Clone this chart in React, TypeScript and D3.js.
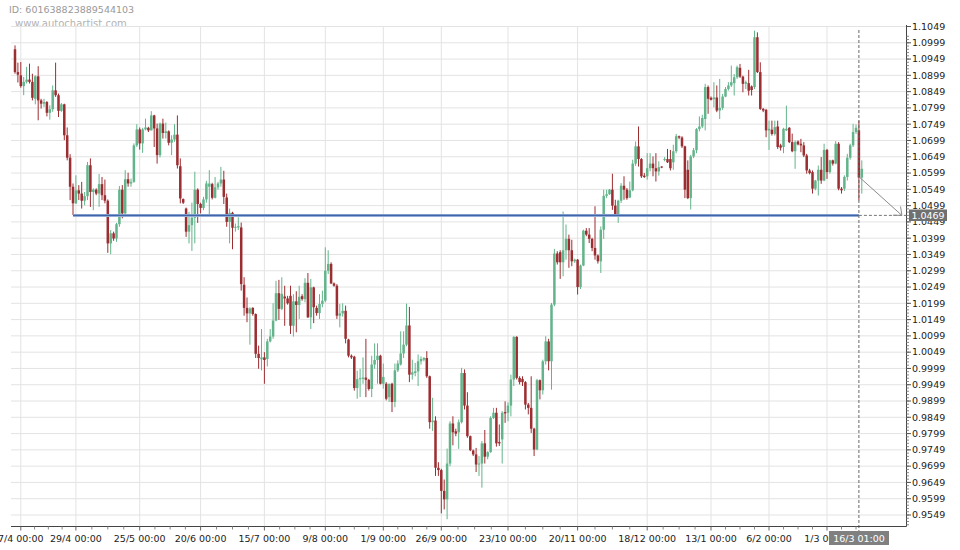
import React from "react";
import * as d3 from "d3";

// ---- data (daily candles) ----
const opens = [
1.0979,1.0909,1.0899,1.0866,1.0879,1.0886,1.0879,1.0827,1.0896,1.0822,
1.0812,1.0817,1.0784,1.0795,1.0853,1.0838,1.0790,1.0810,1.0715,1.0646,
1.0557,1.0506,1.0546,1.0536,1.0514,1.0528,1.0623,1.0541,1.0548,1.0536,
1.0565,1.0531,1.0514,1.0383,1.0414,1.0398,1.0442,1.0548,1.0475,1.0580,
1.0567,1.0572,1.0684,1.0733,1.0690,1.0733,1.0738,1.0730,1.0776,1.0736,
1.0654,1.0751,1.0722,1.0727,1.0692,1.0702,1.0717,1.0620,1.0519,1.0490,
1.0419,1.0439,1.0462,1.0548,1.0504,1.0492,1.0518,1.0557,1.0565,1.0523,
1.0555,1.0567,1.0579,1.0524,1.0449,1.0477,1.0431,1.0432,1.0432,1.0256,
1.0185,1.0168,1.0185,1.0166,1.0044,1.0027,1.0033,1.0028,1.0082,1.0097,
1.0146,1.0230,1.0182,1.0220,1.0214,1.0222,1.0130,1.0205,1.0194,1.0221,
1.0212,1.0262,1.0156,1.0248,1.0185,1.0169,1.0197,1.0207,1.0299,1.0320,
1.0260,1.0253,1.0161,1.0168,1.0176,1.0088,1.0038,1.0035,0.9939,0.9966,
0.9967,0.9971,0.9964,0.9936,1.0011,1.0025,1.0038,0.9952,0.9952,0.9911,
0.9952,0.9896,0.9993,1.0011,1.0045,1.0072,1.0131,0.9980,0.9985,0.9990,
1.0021,1.0026,1.0031,0.9975,0.9834,0.9839,0.9694,0.9687,0.9623,0.9597,
0.9707,0.9830,0.9806,0.9803,0.9834,0.9985,0.9885,0.9791,0.9747,0.9735,
0.9704,0.9707,0.9769,0.9728,0.9742,0.9847,0.9863,0.9773,0.9781,0.9865,
0.9863,0.9885,0.9965,1.0096,0.9970,0.9967,0.9957,0.9888,0.9878,0.9814,
0.9750,0.9963,0.9932,1.0021,1.0082,1.0021,1.0195,1.0352,1.0356,1.0325,
1.0362,1.0397,1.0362,1.0328,1.0333,1.0249,1.0315,1.0422,1.0410,1.0397,
1.0369,1.0346,1.0328,1.0425,1.0529,1.0534,1.0548,1.0499,1.0471,1.0514,
1.0560,1.0548,1.0524,1.0546,1.0628,1.0681,1.0642,1.0591,1.0589,1.0614,
1.0628,1.0614,1.0604,1.0619,1.0640,1.0642,1.0642,1.0632,1.0666,1.0712,
1.0708,1.0681,1.0609,1.0522,1.0650,1.0669,1.0734,1.0742,1.0765,1.0863,
1.0830,1.0826,1.0831,1.0791,1.0799,1.0834,1.0857,1.0868,1.0875,1.0893,
1.0922,1.0895,1.0873,1.0875,1.0865,1.0863,1.1016,1.0909,1.0796,1.0793,
1.0730,1.0732,1.0719,1.0742,1.0684,1.0679,1.0730,1.0738,1.0694,1.0666,
1.0696,1.0689,1.0684,1.0653,1.0607,1.0602,1.0551,1.0576,1.0609,1.0576,
1.0670,1.0602,1.0638,1.0628,1.0689,1.0551,1.0551,1.0587,1.0646,1.0684,
1.0725,1.0730,1.0585
];
const highs = [
1.0991,1.0938,1.0940,1.0894,1.0925,1.0935,1.0904,1.0899,1.0927,1.0827,
1.0827,1.0820,1.0807,1.0868,1.0938,1.0843,1.0814,1.0812,1.0739,1.0657,
1.0567,1.0592,1.0562,1.0572,1.0541,1.0633,1.0644,1.0552,1.0552,1.0596,
1.0587,1.0579,1.0518,1.0424,1.0419,1.0446,1.0559,1.0562,1.0608,1.0600,
1.0582,1.0690,1.0749,1.0739,1.0738,1.0766,1.0741,1.0789,1.0778,1.0751,
1.0754,1.0766,1.0754,1.0730,1.0715,1.0749,1.0776,1.0644,1.0521,1.0493,
1.0480,1.0508,1.0603,1.0552,1.0508,1.0526,1.0575,1.0608,1.0569,1.0587,
1.0572,1.0618,1.0606,1.0536,1.0490,1.0480,1.0444,1.0463,1.0447,1.0279,
1.0217,1.0187,1.0187,1.0168,1.0069,1.0120,1.0049,1.0090,1.0120,1.0199,
1.0268,1.0271,1.0279,1.0253,1.0222,1.0253,1.0227,1.0236,1.0253,1.0227,
1.0276,1.0292,1.0274,1.0250,1.0192,1.0227,1.0238,1.0371,1.0362,1.0325,
1.0263,1.0258,1.0197,1.0199,1.0192,1.0090,1.0042,1.0038,0.9992,0.9998,
1.0033,1.0090,0.9967,1.0038,1.0076,1.0076,1.0041,1.0014,0.9957,0.9952,
0.9955,1.0014,1.0024,1.0113,1.0113,1.0198,1.0188,1.0026,1.0016,1.0042,
1.0036,1.0034,1.0052,0.9977,0.9909,0.9852,0.9711,0.9691,0.9658,0.9753,
0.9837,0.9852,0.9814,0.9842,1.0001,0.9996,0.9926,0.9793,0.9750,0.9755,
0.9730,0.9776,0.9810,0.9745,0.9852,0.9878,0.9878,0.9827,0.9868,0.9898,
0.9895,0.9980,1.0098,1.0098,0.9975,0.9975,0.9960,0.9893,0.9975,0.9817,
0.9967,0.9965,1.0026,1.0098,1.0090,1.0200,1.0366,1.0359,1.0362,1.0481,
1.0441,1.0410,1.0394,1.0336,1.0335,1.0318,1.0425,1.0430,1.0430,1.0400,
1.0497,1.0349,1.0435,1.0548,1.0548,1.0550,1.0597,1.0517,1.0517,1.0568,
1.0589,1.0553,1.0573,1.0640,1.0696,1.0742,1.0645,1.0599,1.0660,1.0660,
1.0650,1.0660,1.0635,1.0620,1.0648,1.0673,1.0670,1.0686,1.0719,1.0714,
1.0712,1.0683,1.0638,1.0655,1.0676,1.0737,1.0773,1.0778,1.0873,1.0868,
1.0834,1.0878,1.0868,1.0888,1.0842,1.0863,1.0878,1.0929,1.0903,1.0929,
1.0934,1.0898,1.0883,1.0916,1.0868,1.1036,1.1031,1.0939,1.0799,1.0796,
1.0760,1.0760,1.0760,1.0760,1.0689,1.0738,1.0806,1.0740,1.0720,1.0699,
1.0699,1.0704,1.0694,1.0658,1.0612,1.0607,1.0578,1.0622,1.0648,1.0689,
1.0673,1.0640,1.0640,1.0697,1.0694,1.0556,1.0592,1.0658,1.0689,1.0750,
1.0748,1.0760,1.0638
];
const lows = [
1.0904,1.0877,1.0861,1.0838,1.0874,1.0874,1.0822,1.0810,1.0761,1.0797,
1.0802,1.0773,1.0763,1.0787,1.0833,1.0771,1.0787,1.0700,1.0638,1.0516,
1.0470,1.0504,1.0516,1.0490,1.0500,1.0516,1.0495,1.0485,1.0531,1.0495,
1.0516,1.0506,1.0354,1.0350,1.0391,1.0388,1.0434,1.0460,1.0473,1.0557,
1.0557,1.0569,1.0679,1.0671,1.0661,1.0730,1.0725,1.0730,1.0679,1.0628,
1.0647,1.0705,1.0705,1.0684,1.0654,1.0695,1.0613,1.0506,1.0504,1.0403,
1.0383,1.0360,1.0383,1.0446,1.0475,1.0485,1.0508,1.0470,1.0518,1.0521,
1.0548,1.0557,1.0504,1.0434,1.0383,1.0365,1.0419,1.0424,1.0238,1.0161,
1.0141,1.0072,1.0161,1.0031,0.9998,0.9993,0.9952,1.0005,1.0079,1.0090,
1.0144,1.0148,1.0178,1.0130,1.0195,1.0105,1.0097,1.0110,1.0151,1.0207,
1.0202,1.0154,1.0120,1.0138,1.0161,1.0151,1.0187,1.0202,1.0289,1.0258,
1.0250,1.0151,1.0125,1.0158,1.0076,1.0033,1.0028,0.9931,0.9906,0.9911,
0.9952,0.9911,0.9931,0.9911,0.9998,0.9952,0.9950,0.9937,0.9901,0.9896,
0.9865,0.9880,0.9988,1.0008,1.0031,1.0067,0.9957,0.9965,0.9975,0.9945,
1.0011,1.0021,0.9970,0.9814,0.9807,0.9669,0.9669,0.9554,0.9566,0.9536,
0.9699,0.9763,0.9791,0.9752,0.9830,0.9873,0.9786,0.9745,0.9730,0.9681,
0.9669,0.9633,0.9707,0.9720,0.9740,0.9844,0.9759,0.9761,0.9707,0.9832,
0.9837,0.9852,0.9945,0.9965,0.9950,0.9945,0.9873,0.9858,0.9801,0.9730,
0.9748,0.9904,0.9919,1.0011,0.9993,0.9934,1.0190,1.0318,1.0274,1.0282,
1.0333,1.0308,1.0313,1.0323,1.0226,1.0243,1.0313,1.0405,1.0384,1.0359,
1.0333,1.0321,1.0292,1.0397,1.0522,1.0532,1.0486,1.0464,1.0446,1.0507,
1.0517,1.0517,1.0522,1.0543,1.0621,1.0619,1.0584,1.0584,1.0579,1.0604,
1.0589,1.0573,1.0591,1.0614,1.0635,1.0630,1.0607,1.0609,1.0660,1.0703,
1.0676,1.0522,1.0519,1.0487,1.0645,1.0660,1.0727,1.0737,1.0730,1.0781,
1.0822,1.0801,1.0786,1.0765,1.0793,1.0832,1.0852,1.0863,1.0837,1.0888,
1.0891,1.0847,1.0857,1.0837,1.0837,1.0857,1.0906,1.0793,1.0786,1.0709,
1.0670,1.0714,1.0714,1.0673,1.0668,1.0660,1.0728,1.0691,1.0663,1.0612,
1.0684,1.0663,1.0648,1.0597,1.0595,1.0536,1.0546,1.0530,1.0566,1.0574,
1.0581,1.0597,1.0622,1.0626,1.0546,1.0536,1.0544,1.0576,1.0640,1.0679,
1.0719,1.0515,1.0536
];
const closes = [
1.0909,1.0901,1.0866,1.0879,1.0886,1.0879,1.0830,1.0896,1.0822,1.0812,
1.0817,1.0784,1.0795,1.0853,1.0838,1.0790,1.0810,1.0715,1.0646,1.0557,
1.0506,1.0546,1.0536,1.0514,1.0528,1.0623,1.0541,1.0548,1.0536,1.0565,
1.0531,1.0514,1.0383,1.0414,1.0398,1.0442,1.0548,1.0475,1.0580,1.0567,
1.0572,1.0684,1.0733,1.0690,1.0733,1.0739,1.0730,1.0776,1.0736,1.0654,
1.0751,1.0722,1.0727,1.0692,1.0702,1.0717,1.0623,1.0521,1.0508,1.0419,
1.0439,1.0462,1.0548,1.0504,1.0492,1.0518,1.0567,1.0567,1.0523,1.0555,
1.0567,1.0579,1.0526,1.0449,1.0477,1.0431,1.0434,1.0436,1.0258,1.0185,
1.0168,1.0183,1.0166,1.0044,1.0031,1.0033,1.0025,1.0082,1.0097,1.0146,
1.0230,1.0182,1.0228,1.0214,1.0199,1.0130,1.0205,1.0194,1.0219,1.0212,
1.0262,1.0156,1.0248,1.0187,1.0169,1.0197,1.0207,1.0299,1.0320,1.0260,
1.0253,1.0161,1.0168,1.0176,1.0090,1.0038,1.0033,0.9939,0.9966,0.9969,
0.9971,0.9964,0.9936,1.0011,1.0025,1.0038,0.9952,0.9973,0.9906,0.9952,
0.9896,0.9993,1.0014,1.0045,1.0072,1.0131,0.9980,0.9987,0.9990,1.0021,
1.0028,1.0031,0.9975,0.9834,0.9839,0.9694,0.9687,0.9623,0.9597,0.9707,
0.9830,0.9803,0.9799,0.9834,0.9985,0.9885,0.9791,0.9748,0.9735,0.9704,
0.9707,0.9769,0.9728,0.9742,0.9847,0.9863,0.9769,0.9769,0.9863,0.9861,
0.9885,0.9965,1.0096,0.9970,0.9957,0.9957,0.9888,0.9878,0.9814,0.9750,
0.9963,0.9932,1.0021,1.0082,1.0021,1.0195,1.0352,1.0325,1.0325,1.0362,
1.0397,1.0362,1.0328,1.0333,1.0249,1.0315,1.0422,1.0410,1.0397,1.0369,
1.0346,1.0328,1.0425,1.0529,1.0534,1.0548,1.0499,1.0471,1.0514,1.0560,
1.0548,1.0522,1.0546,1.0628,1.0681,1.0642,1.0589,1.0587,1.0614,1.0628,
1.0614,1.0604,1.0617,1.0617,1.0642,1.0632,1.0614,1.0666,1.0712,1.0708,
1.0681,1.0548,1.0522,1.0650,1.0669,1.0734,1.0742,1.0768,1.0863,1.0827,
1.0824,1.0831,1.0791,1.0799,1.0834,1.0857,1.0868,1.0878,1.0893,1.0924,
1.0895,1.0873,1.0878,1.0852,1.0854,1.1016,1.0909,1.0796,1.0791,1.0730,
1.0735,1.0719,1.0740,1.0679,1.0677,1.0735,1.0735,1.0694,1.0666,1.0694,
1.0687,1.0684,1.0653,1.0607,1.0599,1.0551,1.0576,1.0609,1.0576,1.0670,
1.0602,1.0638,1.0628,1.0689,1.0551,1.0546,1.0587,1.0646,1.0684,1.0725,
1.0738,1.0585,1.0612
];

const xTickBars = [3, 22, 44, 65, 87, 108, 128, 148, 171, 195, 219, 241, 261, 281];
const xTickLabels = ["7/4 00:00", "29/4 00:00", "25/5 00:00", "20/6 00:00", "15/7 00:00", "9/8 00:00", "1/9 00:00", "26/9 00:00", "23/10 00:00", "20/11 00:00", "18/12 00:00", "13/1 00:00", "6/2 00:00", "1/3 00:00"];
const yTickValues = [1.1049, 1.0999, 1.0949, 1.0899, 1.0849, 1.0799, 1.0749, 1.0699, 1.0649, 1.0599, 1.0549, 1.0499, 1.0449, 1.0399, 1.0349, 1.0299, 1.0249, 1.0199, 1.0149, 1.0099, 1.0049, 0.9999, 0.9949, 0.9899, 0.9849, 0.9799, 0.9749, 0.9699, 0.9649, 0.9599, 0.9549];

const supportLevel = 1.0469;
const supportStartBar = 21;
const patternEndBar = 292;
const patternEndLabel = "16/3 01:00";
const chartId = "ID: 601638823889544103";
const siteName = "www.autochartist.com";

// ---- layout ----
const W = 960, H = 550;
const PLOT_LEFT = 11, PLOT_RIGHT = 906.5, PLOT_TOP = 26, PLOT_BOTTOM = 526.5;
const FONT = "DejaVu Sans, Verdana, sans-serif";
const RED = "#9c2d31";
const GREEN = "#63b48b";

export default function App() {
  const N = opens.length;
  const x = d3.scaleLinear().domain([1, N]).range([15, 15 + (N - 1) * 2.9]);
  const y = d3.scaleLinear().domain([0.9549, 1.1049]).range([515, 26.5]);
  const bodyW = 2.5;

  const candles = opens.map((o, i) => {
    const c = closes[i];
    const up = c >= o;
    const cx = x(i + 1);
    const top = y(Math.max(o, c));
    const bot = y(Math.min(o, c));
    return { cx, up, top, h: Math.max(1, bot - top), hi: y(highs[i]), lo: y(lows[i]) };
  });

  // minor ticks on the time axis: quarters between major ticks
  const majorX = xTickBars.map((b) => x(b));
  const minorX: number[] = [];
  for (let k = 0; k < majorX.length - 1; k++) {
    const a = majorX[k], b = majorX[k + 1];
    for (let q = 1; q < 4; q++) minorX.push(a + ((b - a) * q) / 4);
  }
  const lastStep = (majorX[majorX.length - 1] - majorX[majorX.length - 2]) / 4;
  for (let q = 1; q <= 2; q++) minorX.push(majorX[majorX.length - 1] + lastStep * q);

  // minor ticks on the price axis every 0.001
  const yMinor = d3.range(0, 151).map((k) => 0.9519 + k * 0.001).filter((v) => y(v) >= PLOT_TOP && y(v) <= PLOT_BOTTOM);

  const supY = y(supportLevel);
  const endX = x(patternEndBar);
  const endY = y(closes[patternEndBar - 1]);
  const tipX = endX + 43;
  const tipY = supY;
  const ang = Math.atan2(tipY - endY, tipX - endX);
  const headLen = 9;
  const headA = (40 * Math.PI) / 180;
  const h1 = [tipX - headLen * Math.cos(ang - headA), tipY - headLen * Math.sin(ang - headA)];
  const h2 = [tipX - headLen * Math.cos(ang + headA), tipY - headLen * Math.sin(ang + headA)];

  return (
    <svg width={W} height={H} style={{ position: "absolute", left: 0, top: 0, background: "#fff" }} fontFamily={FONT}>
      <rect x={0} y={0} width={W} height={H} fill="#fff" />
      {/* header */}
      <text x={9} y={13} fontSize={9.5} fill="#999">{chartId}</text>
      <text x={15} y={27} fontSize={10} fill="#b3b3b3">{siteName}</text>

      {/* grid */}
      {yTickValues.map((v) => (
        <line key={"gy" + v} x1={PLOT_LEFT} x2={PLOT_RIGHT} y1={y(v)} y2={y(v)} stroke="#e3e3e3" strokeWidth={1} />
      ))}
      {majorX.map((gx, i) => (
        <line key={"gx" + i} x1={gx} x2={gx} y1={PLOT_TOP} y2={PLOT_BOTTOM} stroke="#e3e3e3" strokeWidth={1} />
      ))}

      {/* candles */}
      {candles.map((c, i) => (
        <g key={"c" + i}>
          <line x1={c.cx} x2={c.cx} y1={c.hi} y2={c.lo} stroke={c.up ? GREEN : RED} strokeWidth={1} />
          <rect x={c.cx - bodyW / 2} y={c.top} width={bodyW} height={c.h} fill={c.up ? GREEN : RED} />
        </g>
      ))}

      {/* support line */}
      <line x1={x(supportStartBar)} x2={endX} y1={supY} y2={supY} stroke="#93acd8" strokeWidth={3} />
      <line x1={x(supportStartBar)} x2={endX} y1={supY} y2={supY} stroke="#4166a8" strokeWidth={1.4} />

      {/* pattern end markers */}
      <line x1={endX} x2={endX} y1={30} y2={531} stroke="#666" strokeWidth={1} strokeDasharray="3,2" />
      <line x1={endX} x2={PLOT_RIGHT} y1={supY} y2={supY} stroke="#777" strokeWidth={1} strokeDasharray="3,2" />
      <line x1={endX + 1} y1={endY} x2={tipX} y2={tipY} stroke="#8a8a8a" strokeWidth={1} />
      <polyline points={`${h1[0]},${h1[1]} ${tipX},${tipY} ${h2[0]},${h2[1]}`} fill="none" stroke="#8a8a8a" strokeWidth={1} />

      {/* axes */}
      <line x1={PLOT_LEFT} x2={PLOT_RIGHT} y1={PLOT_BOTTOM} y2={PLOT_BOTTOM} stroke="#444" strokeWidth={1} />
      <line x1={PLOT_RIGHT} x2={PLOT_RIGHT} y1={PLOT_TOP - 1} y2={PLOT_BOTTOM} stroke="#444" strokeWidth={1} />
      {majorX.map((gx, i) => (
        <line key={"tx" + i} x1={gx} x2={gx} y1={PLOT_BOTTOM} y2={PLOT_BOTTOM + 4} stroke="#666" strokeWidth={1} />
      ))}
      {minorX.map((gx, i) => (
        <line key={"mx" + i} x1={gx} x2={gx} y1={PLOT_BOTTOM} y2={PLOT_BOTTOM + 3} stroke="#888" strokeWidth={1} />
      ))}
      {yMinor.map((v, i) => (
        <line key={"my" + i} x1={PLOT_RIGHT} x2={PLOT_RIGHT + 2.5} y1={y(v)} y2={y(v)} stroke="#888" strokeWidth={1} />
      ))}
      {yTickValues.map((v) => (
        <g key={"ty" + v}>
          <line x1={PLOT_RIGHT} x2={PLOT_RIGHT + 4.5} y1={y(v)} y2={y(v)} stroke="#555" strokeWidth={1} />
          <text x={912} y={y(v)} dy="0.35em" fontSize={9.5} fill="#222">{v.toFixed(4)}</text>
        </g>
      ))}
      {xTickLabels.map((t, i) => (
        <text key={"lx" + i} x={majorX[i]} y={542} fontSize={9.5} fill="#222" textAnchor="middle">{t}</text>
      ))}

      {/* value labels */}
      <rect x={909} y={209.5} width={38} height={11.5} fill="#707070" />
      <text x={928} y={supY} dy="0.35em" fontSize={9.5} fill="#fff" textAnchor="middle">{supportLevel.toFixed(4)}</text>
      <rect x={829} y={531} width={60} height={14} fill="#808080" />
      <text x={859} y={542} fontSize={9.5} fill="#fff" textAnchor="middle">{patternEndLabel}</text>
    </svg>
  );
}
